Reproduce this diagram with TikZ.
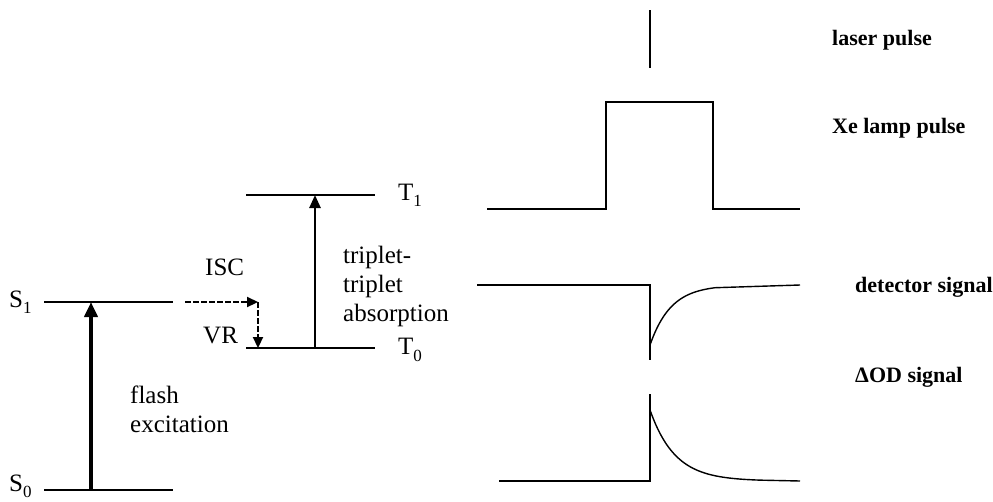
\documentclass[tikz,border=0pt]{standalone}
\usepackage{fontspec}
\setmainfont{Liberation Serif}
\usetikzlibrary{arrows.meta}
\newcommand{\lvsub}[1]{\raisebox{-0.25em}{\fontsize{17}{17}\selectfont #1}}
\begin{document}
\begin{tikzpicture}[x=1pt,y=-1pt,
  level/.style={line width=1.5pt},
  wave/.style={line width=1.4pt, line join=miter},
  lbl/.style={font=\fontsize{25}{29}\selectfont, inner sep=0pt, align=left},
  rlbl/.style={font=\bfseries\fontsize{22}{25}\selectfont, inner sep=0pt, anchor=west},
  bigarrow/.style={line width=4pt, -{Triangle[length=15pt,width=13pt]}},
  midarrow/.style={line width=2.5pt, -{Triangle[length=13pt,width=11pt]}},
  dasharrow/.style={line width=2.2pt, dash pattern=on 6pt off 2pt, -{Triangle[length=11pt,width=10pt]}}]
\useasboundingbox (0,0) rectangle (993,501);
% levels
\coordinate (S1l) at (44,302); \coordinate (S1r) at (173,302);
\coordinate (S0l) at (44,490); \coordinate (S0r) at (173,490);
\coordinate (T1l) at (246,195); \coordinate (T1r) at (375,195);
\coordinate (T0l) at (246,348); \coordinate (T0r) at (375,348);
\draw[level] (S1l) -- (S1r);
\draw[level] (S0l) -- (S0r);
\draw[level] (T1l) -- (T1r);
\draw[level] (T0l) -- (T0r);
\node[lbl, anchor=west] (S1) at (9,302) {S\lvsub{1}};
\node[lbl, anchor=west] (S0) at (9,486) {S\lvsub{0}};
\node[lbl, anchor=west] (T1) at (398,195) {T\lvsub{1}};
\node[lbl, anchor=west] (T0) at (398,350) {T\lvsub{0}};
% arrows
\coordinate (fa0) at (91,490); \coordinate (fa1) at (91,302);
\draw[bigarrow] (fa0) -- (fa1);
\coordinate (ta0) at (315,348); \coordinate (ta1) at (315,195);
\draw[midarrow] (ta0) -- (ta1);
\coordinate (isc0) at (185,302); \coordinate (isc1) at (258,302); \coordinate (vr1) at (258,348);
\draw[dasharrow] (isc0) -- (isc1);
\draw[dasharrow] (isc1) -- (vr1);
\node[lbl, anchor=west] (isc) at (205,267) {ISC};
\node[lbl, anchor=west] (vr) at (203,335) {VR};
\node[lbl, anchor=north west] (flash) at (130,386) {flash\\excitation};
\node[lbl, anchor=north west] (tt) at (343,246) {triplet-\\triplet\\absorption};
% laser pulse
\draw[wave] (650,10) -- (650,68);
\node[rlbl] (laser) at (832,40) {laser pulse};
% Xe lamp pulse
\draw[wave] (487,209) -- (606,209) -- (606,102) -- (713,102) -- (713,209) -- (800,209);
\node[rlbl] (xe) at (832,128) {Xe lamp pulse};
% detector signal
\draw[wave] (477,285) -- (650,285) -- (650,360);
\draw[wave] plot[domain=650:715, samples=50] (\x, {285+60*exp(-(\x-650)/21)}) -- (800,285);
\node[rlbl] (det) at (855,287) {detector signal};
% Delta OD signal
\draw[wave] (499,481) -- (650,481) -- (650,394);
\draw[wave] (650,394) -- (650,410) plot[domain=650:760, samples=60] (\x, {481-71*exp(-(\x-650)/25)}) -- (800,481);
\node[rlbl] (od) at (855,377) {ΔOD signal};
\end{tikzpicture}
\end{document}
